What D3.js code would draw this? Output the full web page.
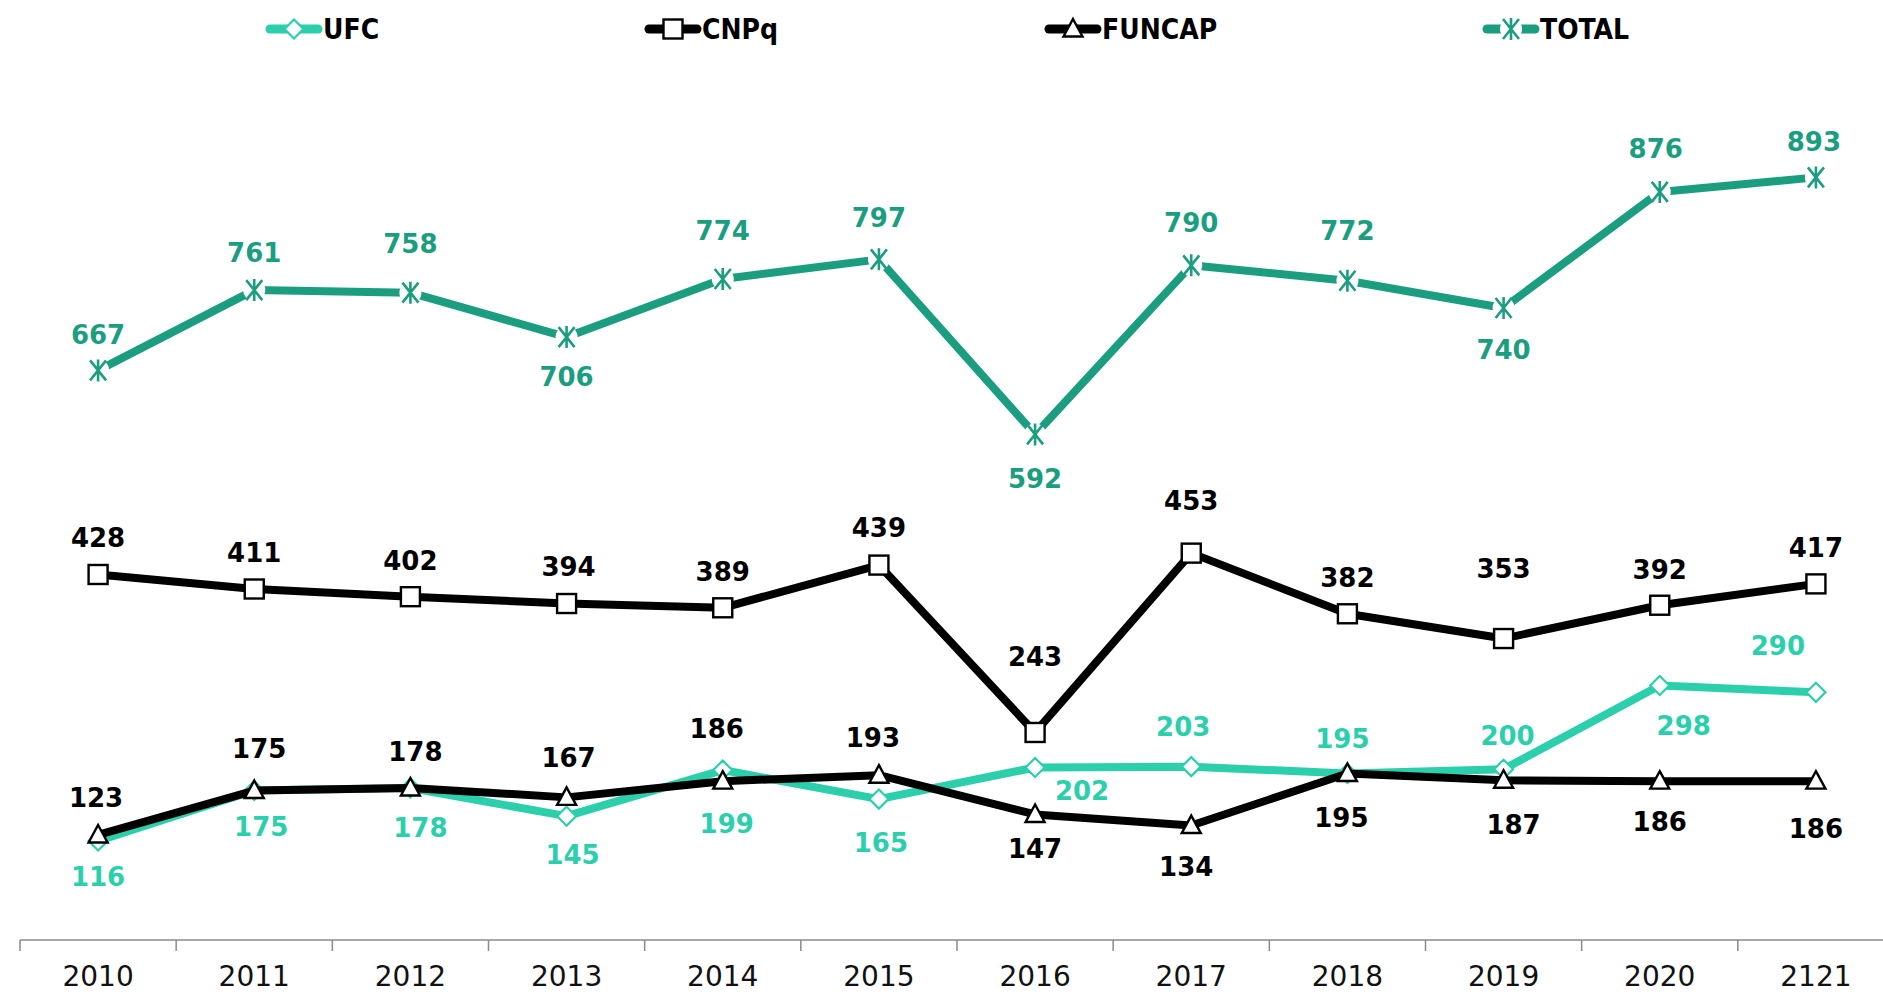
<!DOCTYPE html>
<html>
<head>
<meta charset="utf-8">
<script src="https://cdn.jsdelivr.net/npm/d3@7"></script>
<style>
  html, body { margin: 0; padding: 0; background: #fff; }
  svg { display: block; }
</style>
</head>
<body>
<svg id="chart" width="1883" height="994"></svg>
<script>
const years = ['2010', '2011', '2012', '2013', '2014', '2015', '2016', '2017', '2018', '2019', '2020', '2121']

const ufcValues = [116, 175, 178, 145, 199, 165, 202, 203, 195, 200, 298, 290]
const cnpqValues = [428, 411, 402, 394, 389, 439, 243, 453, 382, 353, 392, 417]
const funcapValues = [123, 175, 178, 167, 186, 193, 147, 134, 195, 187, 186, 186]
const totalValues = [667, 761, 758, 706, 774, 797, 592, 790, 772, 740, 876, 893]

// label placement, relative to the point (hand placed in the original)
const ufcLabelDx = [0, 7, 10, 6, 4, 2, 47, -8, -5, 4, 24, -38]
const ufcLabelDy = [36, 36, 40, 38, 54, 44, 23, -40, -35, -34, 40, -47]
const cnpqLabelDx = [0, 0, 0, 2, 0, 0, 0, 0, 0, 0, 0, 0]
const cnpqLabelDy = [-37, -36, -36, -37, -36, -37, -76, -52, -36, -70, -36, -36]
const funcapLabelDx = [-2, 5, 5, 2, -6, -6, 0, -5, -6, 10, 0, 0]
const funcapLabelDy = [-37, -42, -36, -40, -53, -38, 34, 41, 44, 44, 40, 47]
const totalLabelDx = [0, 0, 0, 0, 0, 0, 0, 0, 0, 0, -4, -2]
const totalLabelDy = [-36, -37, -49, 40, -48, -42, 44, -43, -50, 42, -43, -36]

const UFC_COLOR = '#2ccfab'
const TOTAL_COLOR = '#1a9e7f'
const BLACK = '#000000'

const series = [
  { id: 'ufc', name: 'UFC', values: ufcValues, color: UFC_COLOR, labelColor: UFC_COLOR, marker: 'diamond', dx: ufcLabelDx, dy: ufcLabelDy, legendX: 266 },
  { id: 'cnpq', name: 'CNPq', values: cnpqValues, color: BLACK, labelColor: BLACK, marker: 'square', dx: cnpqLabelDx, dy: cnpqLabelDy, legendX: 645 },
  { id: 'funcap', name: 'FUNCAP', values: funcapValues, color: BLACK, labelColor: BLACK, marker: 'triangle', dx: funcapLabelDx, dy: funcapLabelDy, legendX: 1045 },
  { id: 'total', name: 'TOTAL', values: totalValues, color: TOTAL_COLOR, labelColor: TOTAL_COLOR, marker: 'star', dx: totalLabelDx, dy: totalLabelDy, legendX: 1483 }
]

const svg = d3.select('#chart')

const axisY = 940
const x = d3.scaleBand().domain(years).range([20, 1894]).padding(0)
const y = d3.scaleLinear().domain([0, 1000]).range([axisY, axisY - 854])
const cx = d => x(d) + x.bandwidth() / 2

// x axis: category labels, tick marks on band boundaries
const axis = svg.append('g').attr('class', 'x-axis')
axis.append('line')
  .attr('x1', 20).attr('x2', 1883)
  .attr('y1', axisY).attr('y2', axisY)
  .attr('stroke', '#8a8a8a').attr('stroke-width', 1.5)

axis.selectAll('line.tick')
  .data(years)
  .enter()
  .append('line')
  .attr('class', 'tick')
  .attr('x1', d => x(d)).attr('x2', d => x(d))
  .attr('y1', axisY).attr('y2', axisY + 11)
  .attr('stroke', '#8a8a8a').attr('stroke-width', 1.5)

axis.selectAll('text')
  .data(years)
  .enter()
  .append('text')
  .attr('x', cx)
  .attr('y', 986)
  .attr('text-anchor', 'middle')
  .style('font-family', 'DejaVu Sans, Verdana, sans-serif')
  .style('font-size', '28px')
  .style('fill', '#111')
  .text(d => d)

function drawMarker (sel, type, color) {
  if (type === 'diamond') {
    sel.append('path')
      .attr('d', 'M0,-9.5L9.5,0L0,9.5L-9.5,0Z')
      .attr('fill', '#fff').attr('stroke', color).attr('stroke-width', 2.2)
  } else if (type === 'square') {
    sel.append('rect')
      .attr('x', -9.5).attr('y', -9.5).attr('width', 19).attr('height', 19)
      .attr('fill', '#fff').attr('stroke', color).attr('stroke-width', 2.4)
  } else if (type === 'triangle') {
    sel.append('path')
      .attr('d', 'M0,-10L9.5,7.5L-9.5,7.5Z')
      .attr('fill', '#fff').attr('stroke', color).attr('stroke-width', 2.4)
      .attr('stroke-linejoin', 'miter')
  } else {
    sel.append('circle').attr('r', 11).attr('fill', '#fff')
    sel.append('path')
      .attr('d', 'M-8,-10L8,10M8,-10L-8,10M0,-11L0,11')
      .attr('fill', 'none').attr('stroke', color).attr('stroke-width', 2.6)
  }
}

const line = d3.line()
  .x((v, i) => cx(years[i]))
  .y(v => y(v))

series.forEach(s => {
  const g = svg.append('g').attr('class', `series series--${s.id}`)

  g.append('path')
    .datum(s.values)
    .attr('d', line)
    .attr('fill', 'none')
    .attr('stroke', s.color)
    .attr('stroke-width', 8)
    .attr('stroke-linejoin', 'round')

  g.selectAll('g.marker')
    .data(s.values)
    .enter()
    .append('g')
    .attr('class', 'marker')
    .attr('transform', (v, i) => `translate(${cx(years[i])},${y(v)})`)
    .each(function () { drawMarker(d3.select(this), s.marker, s.color) })
})

// data labels drawn above all lines
series.forEach(s => {
  svg.append('g')
    .attr('class', `labels labels--${s.id}`)
    .selectAll('text')
    .data(s.values)
    .enter()
    .append('text')
    .attr('x', (v, i) => cx(years[i]) + s.dx[i])
    .attr('y', (v, i) => y(v) + s.dy[i])
    .attr('dy', '0.36em')
    .attr('text-anchor', 'middle')
    .style('font-family', 'DejaVu Sans, Verdana, sans-serif')
    .style('font-weight', 'bold')
    .style('font-size', '26px')
    .style('fill', s.labelColor)
    .text(v => v)
})

// legend
const legend = svg.append('g').attr('class', 'legend')
series.forEach(s => {
  const item = legend.append('g').attr('transform', `translate(${s.legendX},29)`)
  item.append('line')
    .attr('x1', 4).attr('x2', 52).attr('y1', 0).attr('y2', 0)
    .attr('stroke', s.color).attr('stroke-width', 9).attr('stroke-linecap', 'round')
  const m = item.append('g').attr('transform', 'translate(28,0)')
  drawMarker(m, s.marker, s.color)
  item.append('text')
    .attr('x', 57).attr('y', 0).attr('dy', '0.36em')
    .style('font-family', 'DejaVu Sans Condensed, DejaVu Sans, sans-serif')
    .style('font-stretch', 'condensed')
    .style('font-weight', 'bold')
    .style('font-size', '28px')
    .style('fill', '#000')
    .text(s.name)
})
</script>
</body>
</html>
